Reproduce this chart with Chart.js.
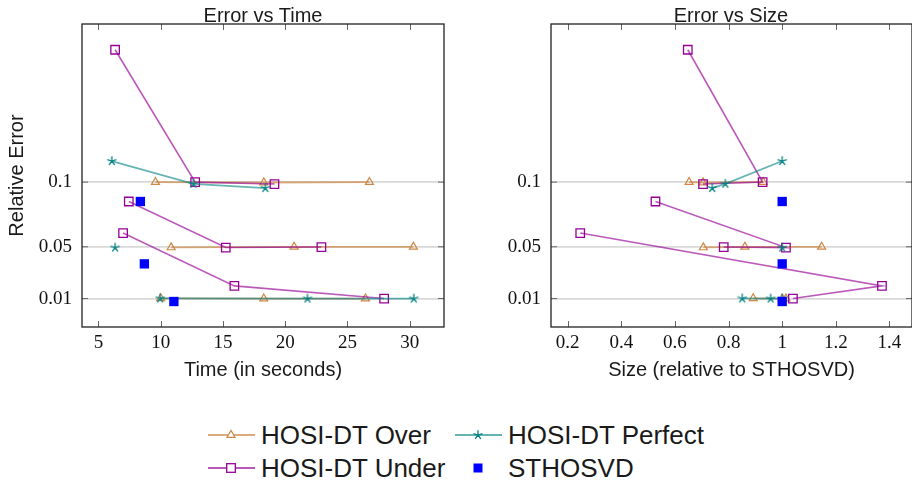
<!DOCTYPE html>
<html lang="en">
<head>
<meta charset="UTF-8">
<title>Error vs Time / Size</title>
<script src="https://cdn.jsdelivr.net/npm/chart.js@4.4.0/dist/chart.umd.min.js"></script>
<style>
    * { box-sizing: border-box; }
    body {
        margin: 0;
        width: 912px;
        height: 481px;
        overflow: hidden;
        position: relative;
        background: #fff;
        color: #1a1a1a;
        font-family: "Liberation Sans", Arial, sans-serif;
    }
    .panel { position: absolute; top: 0; height: 400px; }
    #leftPanel { left: 0; width: 460px; }
    #rightPanel { left: 460px; width: 452px; }
    .title {
        position: absolute;
        top: 3px;
        font-size: 20px;
        line-height: 24px;
        white-space: nowrap;
        transform: translateX(-50%);
    }
    .legend-item {
        position: absolute;
        height: 30px;
        display: flex;
        align-items: center;
        font-size: 26px;
        line-height: 30px;
        white-space: nowrap;
    }
    .legend-item svg { margin-right: 6px; }
</style>
</head>
<body>
    <div class="panel" id="leftPanel"><canvas id="timeChart" width="460" height="400"></canvas></div>
    <div class="panel" id="rightPanel"><canvas id="sizeChart" width="452" height="400"></canvas></div>
    <div class="title" style="left:263px">Error vs Time</div>
    <div class="title" style="left:731px">Error vs Size</div>
    <div id="legend"></div>

<script>
    // tick values
    const timeTicks = [5, 10, 15, 20, 25, 30];
    const sizeTicks = [0.2, 0.4, 0.6, 0.8, 1, 1.2, 1.4];
    const errTicks = [0.01, 0.05, 0.1];

    // each series has 3 runs (one per target error), points joined within a run
    const overTime = [[9.58, 18.28, 26.77], [10.84, 20.72, 30.3], [10.0, 18.28, 26.45]];
    const overSize = [[0.653, 0.705, 0.929], [0.706, 0.861, 1.147], [0.892, 1.0, 1.014]];
    const overErr  = [[0.1, 0.0997, 0.1], [0.0495, 0.05, 0.05], [0.0101, 0.01, 0.01]];

    const perfectTime = [[6.07, 12.63, 18.41], [6.34], [9.96, 21.79, 30.33]];
    const perfectSize = [[1.0, 0.788, 0.739], [1.0], [0.851, 0.957, 1.0]];
    const perfectErr  = [[0.1163, 0.0987, 0.0954], [0.0494], [0.0101, 0.01, 0.01]];

    const underTime = [[6.34, 12.77, 19.14], [7.44, 15.23, 22.91], [6.98, 15.92, 27.95]];
    const underSize = [[0.648, 0.927, 0.705], [0.5275, 1.014, 0.782], [0.247, 1.372, 1.04]];
    const underErr  = [[0.2023, 0.1, 0.0985], [0.085, 0.0494, 0.0498], [0.0606, 0.0198, 0.01]];

    const sthosvdTime = [8.37, 8.69, 11.06];
    const sthosvdSize = [1, 1, 1];
    const sthosvdErr  = [0.085, 0.0368, 0.0077];

    const seriesNames = ['HOSI-DT Over', 'HOSI-DT Perfect', 'HOSI-DT Under', 'STHOSVD'];

    const overColor = 'rgb(204,136,68)';
    const perfectColor = 'rgb(0,128,128)';
    const underColor = 'rgb(150,0,150)';
    const blue = '#0000ff';

    function starImage(color) {
        const c = document.createElement('canvas');
        c.width = 12; c.height = 12;
        const g = c.getContext('2d');
        g.strokeStyle = color;
        g.lineWidth = 1.3;
        g.beginPath();
        for (let k = 0; k < 5; k++) {
            const a = -Math.PI / 2 + k * 2 * Math.PI / 5;
            g.moveTo(6, 6);
            g.lineTo(6 + 4.8 * Math.cos(a), 6 + 4.8 * Math.sin(a));
        }
        g.stroke();
        return c;
    }
    const star = starImage(perfectColor);

    function runs(xs, ys, style) {
        return xs.map((row, g) => Object.assign({
            data: row.map((x, i) => ({ x: x, y: ys[g][i] })),
            showLine: true,
            tension: 0
        }, style));
    }

    const overStyle = {
        borderColor: 'rgba(204,136,68,0.7)', borderWidth: 1.8,
        pointStyle: 'triangle', pointRadius: 4.6, pointBorderWidth: 1.2,
        pointBorderColor: overColor, pointBackgroundColor: 'rgba(255,255,255,0)', order: 4
    };
    const underStyle = {
        borderColor: 'rgba(150,0,150,0.65)', borderWidth: 1.6,
        pointStyle: 'rect', pointRadius: 6, pointBorderWidth: 1.3,
        pointBorderColor: underColor, pointBackgroundColor: 'rgba(255,255,255,0)', order: 3
    };
    const perfectStyle = {
        borderColor: 'rgba(0,128,128,0.6)', borderWidth: 1.8,
        pointStyle: star, pointRadius: 5, order: 2
    };

    function buildDatasets(over, perfect, under, sthosvd) {
        return [].concat(
            runs(over, overErr, overStyle),
            runs(under, underErr, underStyle),
            runs(perfect, perfectErr, perfectStyle),
            [{
                data: sthosvd.map((x, i) => ({ x: x, y: sthosvdErr[i] })),
                showLine: false,
                pointStyle: 'rect', pointRadius: 6.6, pointBorderWidth: 0,
                pointBackgroundColor: blue, pointBorderColor: blue, order: 1
            }]
        );
    }

    // pgfplots-like frame: box plus inward tick marks
    const framePlugin = {
        id: 'frame',
        afterDraw(chart) {
            const { ctx, chartArea: a, scales } = chart;
            ctx.save();
            ctx.strokeStyle = '#666';
            ctx.lineWidth = 1;
            ctx.beginPath();
            scales.x.ticks.forEach(t => {
                const px = Math.round(scales.x.getPixelForValue(t.value)) + 0.5;
                ctx.moveTo(px, a.top); ctx.lineTo(px, a.top + 6);
                ctx.moveTo(px, a.bottom); ctx.lineTo(px, a.bottom - 6);
            });
            scales.y.ticks.forEach(t => {
                const py = scales.y.getPixelForValue(t.value);
                ctx.moveTo(a.left, py); ctx.lineTo(a.left + 6, py);
                ctx.moveTo(a.right, py); ctx.lineTo(a.right - 6, py);
            });
            ctx.stroke();
            ctx.strokeStyle = '#222';
            ctx.lineWidth = 1.3;
            ctx.strokeRect(a.left, a.top, a.right - a.left, a.bottom - a.top);
            ctx.restore();
        }
    };

    function makeChart(id, cfg) {
        return new Chart(document.getElementById(id), {
            type: 'scatter',
            data: { datasets: cfg.datasets },
            options: {
                responsive: false,
                animation: false,
                events: [],
                layout: { autoPadding: false, padding: { left: 0, top: 24, right: cfg.padRight, bottom: 0 } },
                plugins: { legend: { display: false }, tooltip: { enabled: false } },
                scales: {
                    x: {
                        type: 'linear',
                        min: cfg.xMin, max: cfg.xMax,
                        grid: { display: false, drawTicks: false },
                        border: { display: false },
                        afterBuildTicks: s => { s.ticks = cfg.xTicks.map(v => ({ value: v })); },
                        afterFit: s => { s.height = 73; },
                        ticks: {
                            autoSkip: false, maxRotation: 0, padding: 5, color: '#111',
                            font: { family: '"Liberation Serif", "Times New Roman", serif', size: 19 },
                            callback: v => String(v)
                        },
                        title: {
                            display: true, text: cfg.xTitle, color: '#1a1a1a',
                            font: { family: '"Liberation Sans", Arial, sans-serif', size: 20 },
                            padding: { top: 0, bottom: 18 }
                        }
                    },
                    y: {
                        type: 'linear',
                        min: -0.012, max: 0.2222,
                        grid: { color: '#d9d9d9', lineWidth: 1.8, drawTicks: false },
                        border: { display: false },
                        afterBuildTicks: s => { s.ticks = errTicks.map(v => ({ value: v })); },
                        afterFit: s => { s.width = cfg.yWidth; },
                        ticks: {
                            padding: 10, color: '#111',
                            font: { family: '"Liberation Serif", "Times New Roman", serif', size: 19 },
                            callback: v => String(v)
                        },
                        title: {
                            display: cfg.yTitle !== '', text: cfg.yTitle, color: '#1a1a1a',
                            font: { family: '"Liberation Sans", Arial, sans-serif', size: 20 },
                            padding: { top: 5, bottom: 0 }
                        }
                    }
                }
            },
            plugins: [framePlugin]
        });
    }

    makeChart('timeChart', {
        datasets: buildDatasets(overTime, perfectTime, underTime, sthosvdTime),
        xMin: 3.68, xMax: 32.76, xTicks: timeTicks,
        xTitle: 'Time (in seconds)', yTitle: 'Relative Error',
        yWidth: 82, padRight: 16
    });

    makeChart('sizeChart', {
        datasets: buildDatasets(overSize, perfectSize, underSize, sthosvdSize),
        xMin: 0.138, xMax: 1.484, xTicks: sizeTicks,
        xTitle: 'Size (relative to STHOSVD)', yTitle: '',
        yWidth: 91, padRight: 0
    });

    // legend, two columns
    const tri = '<polygon points="23,5.4 27,12.3 19,12.3" fill="#fff" stroke="' + overColor + '" stroke-width="1.2"/>';
    let starPath = '';
    for (let k = 0; k < 5; k++) {
        const a = -Math.PI / 2 + k * 2 * Math.PI / 5;
        starPath += 'M23 10L' + (23 + 4.8 * Math.cos(a)).toFixed(2) + ' ' + (10 + 4.8 * Math.sin(a)).toFixed(2);
    }
    const swatches = [
        '<line x1="0" y1="10" x2="47" y2="10" stroke="rgba(204,136,68,0.7)" stroke-width="2"/>' + tri,
        '<line x1="0" y1="10" x2="47" y2="10" stroke="rgba(0,128,128,0.6)" stroke-width="2"/><path d="' + starPath + '" stroke="' + perfectColor + '" stroke-width="1.3"/>',
        '<line x1="0" y1="10" x2="47" y2="10" stroke="rgba(150,0,150,0.65)" stroke-width="2"/><rect x="18.7" y="5.7" width="8.6" height="8.6" fill="#fff" stroke="' + underColor + '" stroke-width="1.3"/>',
        '<rect x="18.5" y="5.5" width="9" height="9" fill="' + blue + '"/>'
    ];
    const legendPos = [[208, 420], [455, 420], [208, 453], [455, 453]];
    const legend = document.getElementById('legend');
    seriesNames.forEach((name, i) => {
        const item = document.createElement('div');
        item.className = 'legend-item';
        item.style.left = legendPos[i][0] + 'px';
        item.style.top = legendPos[i][1] + 'px';
        item.innerHTML = '<svg width="47" height="20" viewBox="0 0 47 20">' + swatches[i] + '</svg>';
        const label = document.createElement('span');
        label.textContent = name;
        item.appendChild(label);
        legend.appendChild(item);
    });
</script>
</body>
</html>
